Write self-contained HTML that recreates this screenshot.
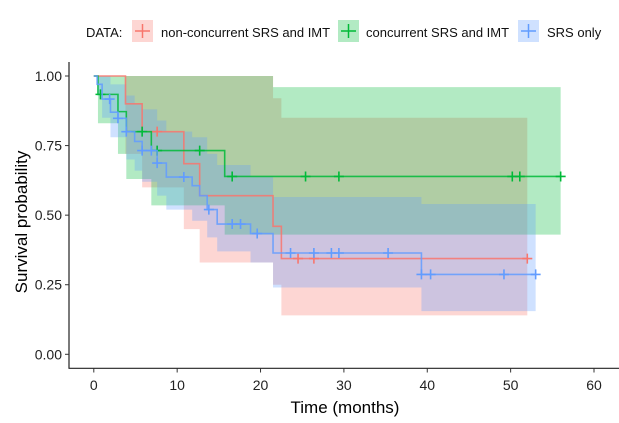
<!DOCTYPE html>
<html><head><meta charset="utf-8"><style>
body{margin:0;background:#fff;}
svg{display:block;font-family:"Liberation Sans",Arial,sans-serif;}
</style></head><body>
<svg id="chart" width="619" height="423">
  <g>
    <text x="86" y="37" font-size="13" fill="#111">DATA:</text>
    <g>
      <rect x="132" y="20" width="21" height="22" fill="#F8766D" fill-opacity="0.3"/>
      <path d="M135 31h15M142.5 24v14" stroke="#F8766D" stroke-width="1.5"/>
      <text x="161" y="37" font-size="13" fill="#111">non-concurrent SRS and IMT</text>
    </g>
    <g>
      <rect x="338" y="20" width="21" height="22" fill="#00BA38" fill-opacity="0.3"/>
      <path d="M341 31h15M348.5 24v14" stroke="#00BA38" stroke-width="1.5"/>
      <text x="366" y="37" font-size="13" fill="#111">concurrent SRS and IMT</text>
    </g>
    <g>
      <rect x="518" y="20" width="21" height="22" fill="#619CFF" fill-opacity="0.3"/>
      <path d="M521 31h15M528.5 24v14" stroke="#619CFF" stroke-width="1.5"/>
      <text x="547" y="37" font-size="13" fill="#111">SRS only</text>
    </g>
  </g>
  <g id="plot"></g>
  <g id="axes"></g>
  <text x="27" y="222" font-size="17" fill="#000" text-anchor="middle" transform="rotate(-90 27 222)">Survival probability</text>
  <text x="345" y="413" font-size="17" fill="#000" text-anchor="middle">Time (months)</text>
</svg>
<script>
// ---- data ----
const xTicks = [0,10,20,30,40,50,60];
const yTicks = [0,0.25,0.5,0.75,1];
const yTickLabels = ["0.00","0.25","0.50","0.75","1.00"];
const seriesNames = ["non-concurrent","concurrent","srs-only"];

const redTimes = [0,3.8,5.8,10.8,12.7,21.5,22.5];
const redSurv = [1,0.90,0.80,0.685,0.57,0.46,0.344];
const redEnd = 52.0;
const redCensor = [7.6,24.5,26.4,52.0];
const redCiTimes = [0,3.8,5.8,10.8,12.7,21.5,22.5];
const redCiLo = [1,0.72,0.60,0.45,0.33,0.25,0.14];
const redCiHi = [1,1,1,1,1,0.92,0.85];

const greenTimes = [0,0.5,2.9,3.9,6.9,15.7];
const greenSurv = [1,0.934,0.872,0.80,0.732,0.639];
const greenEnd = 56.0;
const greenCensor = [0.8,5.8,7.6,12.7,16.6,25.4,29.4,50.2,51.1,56.0];
const greenCiTimes = [0,0.5,2.9,3.9,6.9,15.7,21.5];
const greenCiLo = [1,0.83,0.72,0.63,0.535,0.43,0.43];
const greenCiHi = [1,1,1,1,1,1,0.96];

const blueTimes = [0,0.4,1.0,2.0,2.9,3.9,4.9,5.8,7.6,8.7,11.8,12.7,13.6,14.8,18.8,21.5,39.3];
const blueSurv = [1,0.97,0.917,0.87,0.848,0.80,0.765,0.732,0.687,0.637,0.606,0.57,0.52,0.468,0.434,0.364,0.287];
const blueEnd = 53.0;
const blueCensor = [1.9,2.9,3.9,5.8,6.9,7.6,10.8,13.8,16.6,17.6,19.6,23.6,26.4,28.5,29.4,35.3,39.3,40.4,49.2,53.0];
const blueCiTimes = [0,0.4,1.0,2.0,3.9,4.9,5.8,7.6,8.7,11.8,13.6,14.8,18.8,21.5,39.3];
const blueCiLo = [1,0.93,0.85,0.78,0.70,0.66,0.62,0.57,0.52,0.48,0.42,0.37,0.33,0.24,0.155];
const blueCiHi = [1,1,1,0.97,0.93,0.90,0.88,0.84,0.80,0.78,0.72,0.68,0.64,0.565,0.54];

// ---- scales ----
const X0 = 93.8, XS = (594 - 93.8) / 60;
const Y0 = 354.3, YS = 278.3;
function xS(t){ return X0 + t*XS; }
function yS(s){ return Y0 - s*YS; }
const NS = "http://www.w3.org/2000/svg";
const plot = document.getElementById('plot');
const axes = document.getElementById('axes');
function mk(tag, attrs, parent){
  const e = document.createElementNS(NS, tag);
  for (const k in attrs) e.setAttribute(k, attrs[k]);
  parent.appendChild(e); return e;
}
function stepAt(times, surv, t){
  let v = surv[0];
  for (let i=0;i<times.length;i++) if (times[i] <= t) v = surv[i];
  return v;
}
function stepPath(times, vals, end){
  let d = "M" + xS(times[0]) + " " + yS(vals[0]);
  for (let i=1;i<times.length;i++){
    d += " H" + xS(times[i]) + " V" + yS(vals[i]);
  }
  d += " H" + xS(end);
  return d;
}
function bandPath(times, lo, hi, end){
  let d = "M" + xS(times[0]) + " " + yS(hi[0]);
  for (let i=1;i<times.length;i++) d += " H" + xS(times[i]) + " V" + yS(hi[i]);
  d += " H" + xS(end) + " V" + yS(lo[lo.length-1]);
  for (let i=times.length-1;i>=1;i--) d += " H" + xS(times[i]) + " V" + yS(lo[i-1]);
  d += " H" + xS(times[0]) + " Z";
  return d;
}
const series = [
  {name:"non-concurrent", col:"#F8766D", t:redTimes, s:redSurv, end:redEnd, c:redCensor, ct:redCiTimes, lo:redCiLo, hi:redCiHi},
  {name:"concurrent", col:"#00BA38", t:greenTimes, s:greenSurv, end:greenEnd, c:greenCensor, ct:greenCiTimes, lo:greenCiLo, hi:greenCiHi},
  {name:"srs-only", col:"#619CFF", t:blueTimes, s:blueSurv, end:blueEnd, c:blueCensor, ct:blueCiTimes, lo:blueCiLo, hi:blueCiHi}
];
series.forEach(sr => {
  const b = mk('path', {d:bandPath(sr.ct, sr.lo, sr.hi, sr.end), fill:sr.col, 'fill-opacity':0.3, stroke:'none'}, plot);
  
  
});
series.forEach(sr => {
  const l = mk('path', {d:stepPath(sr.t, sr.s, sr.end), fill:'none', stroke:sr.col, 'stroke-width':1.6, 'stroke-opacity':0.85}, plot);
  
  
  sr.c.forEach(ct => {
    const cx = xS(ct), cy = yS(stepAt(sr.t, sr.s, ct));
    const m = mk('path', {d:"M"+(cx-5)+" "+cy+"h10M"+cx+" "+(cy-5)+"v10", stroke:sr.col, 'stroke-width':1.6}, plot);
    
    
  });
});
// axes
const ya = mk('line', {x1:69, x2:69, y1:62, y2:368.5, stroke:'#222', 'stroke-width':1.2}, axes);


const xa = mk('line', {x1:68.5, x2:619, y1:368.3, y2:368.3, stroke:'#222', 'stroke-width':1.2}, axes);


xTicks.forEach(v => {
  mk('line', {x1:xS(v), x2:xS(v), y1:368.3, y2:372.5, stroke:'#333', 'stroke-width':1}, axes);
  const t = mk('text', {x:xS(v), y:390, 'font-size':14, fill:'#222', 'text-anchor':'middle'}, axes);
  t.textContent = v;
  
  
});
yTicks.forEach((v,i) => {
  mk('line', {x1:65, x2:69, y1:yS(v), y2:yS(v), stroke:'#333', 'stroke-width':1}, axes);
  const t = mk('text', {x:62, y:yS(v)+5, 'font-size':14, fill:'#222', 'text-anchor':'end'}, axes);
  t.textContent = yTickLabels[i];
  
  
});
</script>
</body></html>
